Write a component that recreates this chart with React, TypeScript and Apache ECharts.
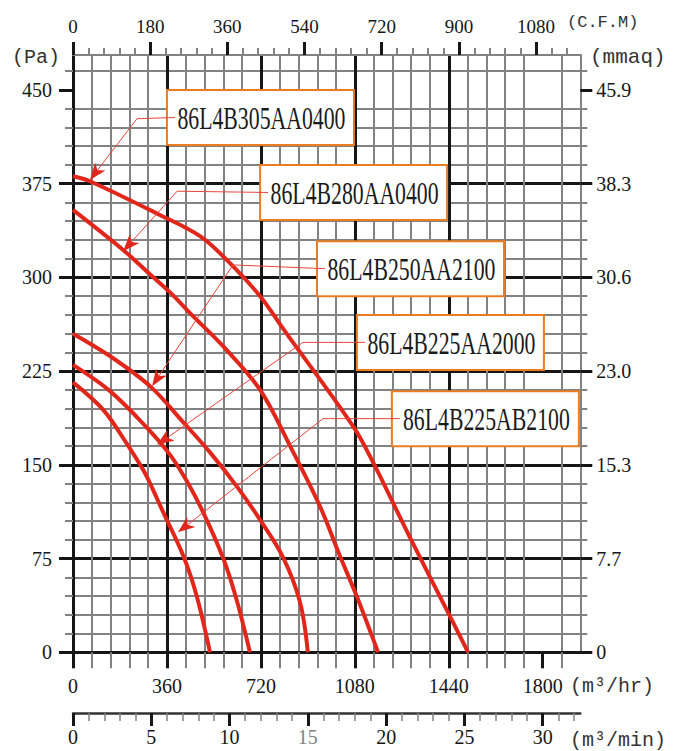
import React, { useEffect, useRef } from 'react';
import * as echarts from 'echarts';

// ---- Data ----
const flowTicks = [0, 360, 720, 1080, 1440, 1800]; // m3/hr
const paTicks = [0, 75, 150, 225, 300, 375, 450]; // Pa
const mmaqLabels = ['0', '7.7', '15.3', '23.0', '30.6', '38.3', '45.9'];
const cfmTicks = [0, 180, 360, 540, 720, 900, 1080];
const m3minTicks = [0, 5, 10, 15, 20, 25, 30];

const modelNames = [
  '86L4B305AA0400',
  '86L4B280AA0400',
  '86L4B250AA2100',
  '86L4B225AA2000',
  '86L4B225AB2100',
];

// [flow m3/hr, static pressure Pa]
const curve305AA0400 = [
  [0, 381], [65, 377], [333, 350], [487, 333], [589, 314], [717, 285], [805, 259],
  [1073, 181], [1150, 152], [1291, 92], [1432, 34], [1514, 0],
];
const curve280AA0400 = [
  [0, 354], [192, 322], [282, 305], [372, 288], [460, 269], [575, 245], [717, 210],
  [832, 165], [946, 117], [1023, 77], [1087, 45], [1169, 0],
];
const curve250AA2100 = [
  [0, 255], [142, 237], [295, 213], [423, 184], [525, 160], [627, 133], [717, 106],
  [805, 76], [870, 40], [900, 0],
];
const curve225AA2000 = [
  [0, 230], [142, 209], [282, 180], [372, 158], [436, 137], [499, 112], [576, 75],
  [627, 42], [678, 0],
];
const curve225AB2100 = [
  [0, 216], [116, 194], [206, 167], [269, 146], [289, 138], [346, 112], [423, 77],
  [474, 45], [525, 0],
];
const curves = [curve305AA0400, curve280AA0400, curve250AA2100, curve225AA2000, curve225AB2100];

// annotation anchors (data coords): box top-left, leader elbow, arrow tip
const annotationAnchors = [
  { box: [360, 450], elbow: [245, 427], tip: [65, 378] },
  { box: [717, 390], elbow: [399, 369], tip: [192, 321] },
  { box: [935, 329], elbow: [613, 310], tip: [303, 213] },
  { box: [1088, 270], elbow: [881, 248], tip: [322, 166] },
  { box: [1222, 209], elbow: [958, 187], tip: [402, 96] },
];

// ---- Scales ----
const X_MAX = 1944;
const Y_MAX = 478;
const CFM_MAX = 1183.2;
const MIN_MAX = 32.4;

const SERIF = '"Liberation Serif", "Times New Roman", serif';
const MONO = '"Liberation Mono", "DejaVu Sans Mono", monospace';
const BLACK = '#161616';
const GRAY = '#828282';
const RED = '#e1261c';
const ORANGE = '#ea7d22';

const labelStyle = { fontFamily: SERIF, fontSize: 20, color: BLACK };

export default function App() {
  const ref = useRef<HTMLDivElement>(null);

  useEffect(() => {
    document.body.style.margin = '0';
    const chart = echarts.init(ref.current!, null, { renderer: 'svg' });

    const option: any = {
      animation: false,
      backgroundColor: '#ffffff',
      grid: [
        { left: 73, top: 55, width: 507.3, height: 597.3, outerBoundsMode: 'none', containLabel: false },
        { left: 73, top: 703, width: 507.3, height: 10, outerBoundsMode: 'none', containLabel: false },
      ],
      xAxis: [
        {
          type: 'value', gridIndex: 0, position: 'bottom', min: 0, max: X_MAX, interval: 360,
          axisLine: { show: true, onZero: false, lineStyle: { color: BLACK, width: 3 } },
          axisTick: { show: true, length: 16, customValues: flowTicks, lineStyle: { color: BLACK, width: 3 } },
          minorTick: { show: true, splitNumber: 5, length: 16, lineStyle: { color: GRAY, width: 2 } },
          splitLine: { show: true, showMaxLine: false, lineStyle: { color: BLACK, width: 3 } },
          minorSplitLine: { show: true, lineStyle: { color: GRAY, width: 2 } },
          axisLabel: {
            ...labelStyle, margin: 24, customValues: flowTicks,
            formatter: (v: number) => (flowTicks.includes(v) ? String(v) : ''),
          },
        },
        {
          type: 'value', gridIndex: 0, position: 'top', min: 0, max: CFM_MAX, interval: 180,
          axisLine: { show: true, onZero: false, lineStyle: { color: GRAY, width: 2 } },
          axisTick: { show: true, length: 13, customValues: cfmTicks, lineStyle: { color: BLACK, width: 3 } },
          minorTick: { show: true, splitNumber: 5, length: 7, lineStyle: { color: GRAY, width: 2 } },
          splitLine: { show: false },
          axisLabel: {
            ...labelStyle, fontSize: 19, margin: 19, customValues: cfmTicks,
            formatter: (v: number) => (cfmTicks.includes(v) ? String(v) : ''),
          },
        },
        {
          type: 'value', gridIndex: 1, position: 'bottom', min: 0, max: MIN_MAX, interval: 5,
          axisLine: { show: true, onZero: false, lineStyle: { color: '#333', width: 2.5 } },
          axisTick: { show: true, length: 13, customValues: m3minTicks, lineStyle: { color: BLACK, width: 3 } },
          minorTick: { show: true, splitNumber: 5, length: 8, lineStyle: { color: GRAY, width: 1.5 } },
          splitLine: { show: false },
          axisLabel: {
            ...labelStyle, margin: 14, customValues: m3minTicks,
            formatter: (v: number) =>
              v === 15 ? '{g|15}' : m3minTicks.includes(v) ? String(v) : '',
            rich: { g: { color: GRAY, fontFamily: SERIF, fontSize: 20 } },
          },
        },
      ],
      yAxis: [
        {
          type: 'value', gridIndex: 0, position: 'left', min: 0, max: Y_MAX, interval: 75,
          axisLine: { show: true, onZero: false, lineStyle: { color: BLACK, width: 3 } },
          axisTick: { show: true, length: 14, customValues: paTicks, lineStyle: { color: BLACK, width: 3 } },
          minorTick: { show: true, splitNumber: 5, length: 8, lineStyle: { color: GRAY, width: 2 } },
          splitLine: { show: true, showMaxLine: false, lineStyle: { color: BLACK, width: 3 } },
          minorSplitLine: { show: true, lineStyle: { color: GRAY, width: 2 } },
          axisLabel: {
            ...labelStyle, margin: 21, customValues: paTicks,
            formatter: (v: number) => (paTicks.includes(v) ? String(v) : ''),
          },
        },
        {
          type: 'value', gridIndex: 0, position: 'right', min: 0, max: Y_MAX, interval: 75,
          axisLine: { show: true, onZero: false, lineStyle: { color: GRAY, width: 2 } },
          axisTick: { show: true, length: 12, customValues: paTicks, lineStyle: { color: BLACK, width: 3 } },
          minorTick: { show: true, splitNumber: 5, length: 7, lineStyle: { color: GRAY, width: 2 } },
          splitLine: { show: false },
          axisLabel: {
            ...labelStyle, margin: 16, customValues: paTicks,
            formatter: (v: number) => {
              const i = paTicks.indexOf(v);
              return i >= 0 ? mmaqLabels[i] : '';
            },
          },
        },
        { type: 'value', gridIndex: 1, min: 0, max: 1, show: false },
      ],
      series: curves.map((c, i) => ({
        name: modelNames[i],
        type: 'line',
        xAxisIndex: 0,
        yAxisIndex: 0,
        data: c,
        smooth: 0.35,
        showSymbol: false,
        symbol: 'none',
        lineStyle: { color: RED, width: 4 },
        z: 5,
      })),
    };

    chart.setOption(option);

    const toPx = (p: number[]) =>
      chart.convertToPixel({ xAxisIndex: 0, yAxisIndex: 0 }, p) as number[];

    const BOX_W = 187;
    const BOX_H = 55;
    const elements: any[] = [];
    annotationAnchors.forEach((a, i) => {
      const [bx, by] = toPx(a.box);
      const [ex, ey] = toPx(a.elbow);
      const [tx, ty] = toPx(a.tip);
      const dx = tx - ex;
      const dy = ty - ey;
      const L = Math.hypot(dx, dy) || 1;
      const ux = dx / L;
      const uy = dy / L;
      const nx = -uy;
      const ny = ux;
      const len = 17;
      const hw = 6.5;
      const baseX = tx - ux * len;
      const baseY = ty - uy * len;
      const notchX = tx - ux * len * 0.72;
      const notchY = ty - uy * len * 0.72;
      const midY = by + BOX_H / 2;
      elements.push({
        type: 'rect', z: 100,
        shape: { x: bx, y: by, width: BOX_W, height: BOX_H },
        style: { fill: '#ffffff', stroke: ORANGE, lineWidth: 2 },
      });
      elements.push({
        type: 'polyline', z: 101,
        shape: { points: [[bx + 8, midY], [ex, ey], [notchX, notchY]] },
        style: { stroke: '#e8453b', lineWidth: 1, fill: null },
      });
      elements.push({
        type: 'polygon', z: 101,
        shape: {
          points: [
            [tx, ty],
            [baseX + nx * hw, baseY + ny * hw],
            [notchX, notchY],
            [baseX - nx * hw, baseY - ny * hw],
          ],
        },
        style: { fill: RED, stroke: null },
      });
      elements.push({
        type: 'text', z: 102,
        x: bx + BOX_W / 2 + 1, y: midY + 1, scaleX: 0.68, scaleY: 1,
        style: {
          text: modelNames[i], fontFamily: SERIF, fontSize: 32, fill: '#1a1a1a',
          align: 'center', verticalAlign: 'middle',
        },
      });
    });

    const unitText = (text: string, x: number, y: number, size: number) => ({
      type: 'text', z: 110, x, y,
      style: { text, fontFamily: MONO, fontSize: size, fill: '#333', align: 'left', verticalAlign: 'middle' },
    });
    elements.push(unitText('(Pa)', 12, 57, 20));
    elements.push(unitText('(mmaq)', 590, 57, 21));
    elements.push(unitText('(C.F.M)', 567, 22, 17));
    elements.push(unitText('(m³/hr)', 570, 686, 20));
    elements.push(unitText('(m³/min)', 570, 740, 20));

    chart.setOption({ graphic: elements });

    return () => chart.dispose();
  }, []);

  return <div ref={ref} style={{ width: 683, height: 751 }} />;
}
